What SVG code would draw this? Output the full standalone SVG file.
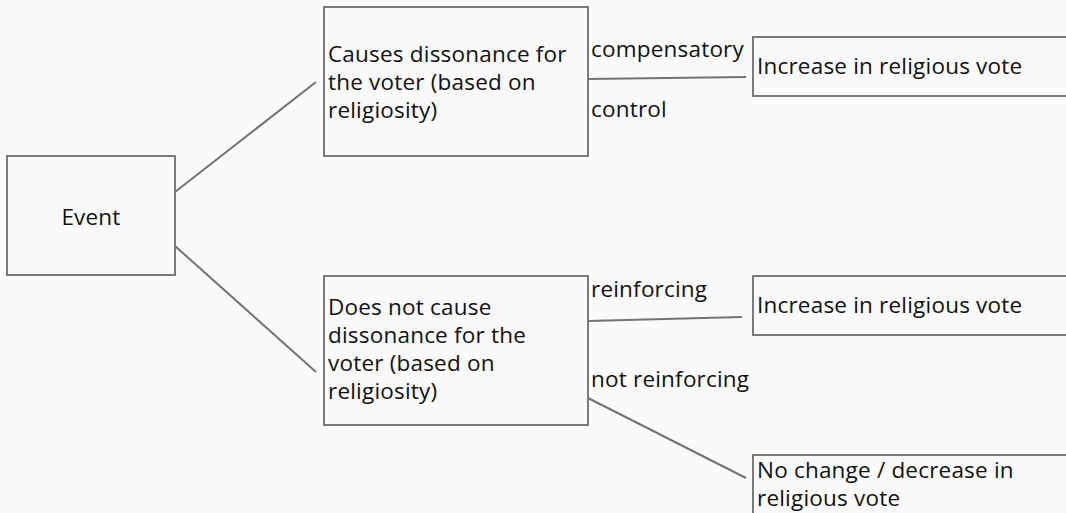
<svg xmlns="http://www.w3.org/2000/svg" width="1066" height="513" viewBox="0 0 1066 513">
<style>
.box{fill:#fafafa;stroke:#7a7a7a;stroke-width:2}
.edge{stroke:#737373;stroke-width:2;fill:none}
text{font-family:"Open Sans","Noto Sans",sans-serif;font-size:22.5px;letter-spacing:0.2px;fill:#111}
</style>
<rect width="1066" height="513" fill="#fafafa"/>
<g id="connectors">
<line class="edge" x1="175" y1="192" x2="316" y2="82"/>
<line class="edge" x1="175" y1="246" x2="316" y2="372"/>
<line class="edge" x1="588" y1="79" x2="746" y2="77"/>
<line class="edge" x1="588" y1="321" x2="742" y2="317"/>
<line class="edge" x1="588" y1="398" x2="746" y2="478"/>
</g>
<g id="event">
<rect class="box" x="7" y="156" width="168" height="119"/>
<text x="91" y="225" text-anchor="middle">Event</text>
</g>
<g id="dissonance">
<rect class="box" x="324" y="7" width="264" height="149"/>
<text x="328" y="62">Causes dissonance for</text>
<text x="328" y="90">the voter (based on</text>
<text x="328" y="118">religiosity)</text>
</g>
<g id="nodissonance">
<rect class="box" x="324" y="276" width="264" height="149"/>
<text x="328" y="315">Does not cause</text>
<text x="328" y="343">dissonance for the</text>
<text x="328" y="371">voter (based on</text>
<text x="328" y="399">religiosity)</text>
</g>
<g id="increase1">
<rect class="box" x="753" y="37" width="318" height="59"/>
<text x="757" y="74">Increase in religious vote</text>
</g>
<g id="increase2">
<rect class="box" x="753" y="276" width="318" height="59"/>
<text x="757" y="313">Increase in religious vote</text>
</g>
<g id="nochange">
<rect class="box" x="753" y="455" width="318" height="70"/>
<text x="757" y="478">No change / decrease in</text>
<text x="757" y="506">religious vote</text>
</g>
<g id="labels">
<text x="591" y="57">compensatory</text>
<text x="591" y="117">control</text>
<text x="591" y="297">reinforcing</text>
<text x="591" y="387">not reinforcing</text>
</g>
</svg>
